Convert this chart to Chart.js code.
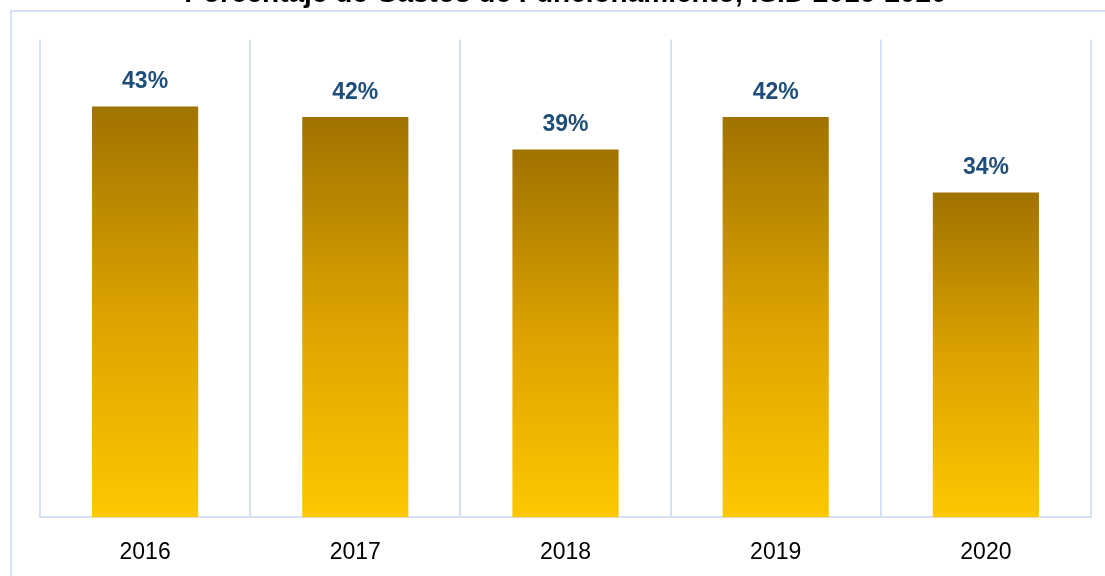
<!DOCTYPE html>
<html lang="es">
<head>
    <meta charset="UTF-8">
    <title>Porcentaje de Gastos de Funcionamiento</title>
    <style>
        html, body { margin: 0; padding: 0; background: #fff; }
        .wrap { width: 1105px; height: 576px; overflow: hidden; position: relative; }
        #chart { position: absolute; left: 0; top: -23px; }
    </style>
</head>
<body>
    <div class="wrap">
        <canvas id="chart" width="1105" height="618"></canvas>
    </div>
    <script src="https://cdn.jsdelivr.net/npm/chart.js"></script>
    <script>
        const titleText = 'Porcentaje de Gastos de Funcionamiento, ISID 2016-2020';
        const years = ['2016', '2017', '2018', '2019', '2020'];
        const porcentajes = [43.0, 41.9, 38.5, 41.9, 34.0];
        const yMax = 50;

        const lightBlue = '#d5e1f2';

        // degradado por barra: oscuro arriba, amarillo abajo
        function barGradient(context) {
            const chart = context.chart;
            if (!chart.chartArea || !chart.scales.y) return '#e0a500';
            const y = chart.scales.y;
            const top = y.getPixelForValue(context.raw);
            const bottom = y.getPixelForValue(0);
            const g = chart.ctx.createLinearGradient(0, top, 0, bottom);
            g.addColorStop(0, '#a07200');
            g.addColorStop(0.5, '#dca200');
            g.addColorStop(1, '#fcc800');
            return g;
        }

        const frame = {
            id: 'frame',
            beforeDraw(chart) {
                const c = chart.ctx;
                c.save();
                c.strokeStyle = lightBlue;
                c.lineWidth = 2;
                c.strokeRect(11, 23 + 11, 1300, 800);
                c.restore();
            }
        };

        const valueLabels = {
            id: 'valueLabels',
            afterDatasetsDraw(chart) {
                const c = chart.ctx;
                const meta = chart.getDatasetMeta(0);
                c.save();
                c.font = 'bold 23px "Liberation Sans", Arial, sans-serif';
                c.fillStyle = '#1f4e79';
                c.textAlign = 'center';
                c.textBaseline = 'alphabetic';
                meta.data.forEach((bar, i) => {
                    c.fillText(Math.round(porcentajes[i]) + '%', bar.x, bar.y - 18);
                });
                c.restore();
            }
        };

        new Chart(document.getElementById('chart'), {
            type: 'bar',
            data: {
                labels: years,
                datasets: [{
                    data: porcentajes,
                    backgroundColor: barGradient,
                    borderWidth: 0,
                    categoryPercentage: 1,
                    barPercentage: 0.505
                }]
            },
            options: {
                responsive: false,
                animation: false,
                layout: { padding: { left: 40, right: 14, bottom: 8 } },
                plugins: {
                    legend: { display: false },
                    tooltip: { enabled: false },
                    title: {
                        display: true,
                        text: titleText,
                        color: '#000',
                        font: { family: '"Liberation Sans", Arial, sans-serif', size: 28, weight: 'bold' },
                        padding: { top: 0, bottom: 29 }
                    }
                },
                scales: {
                    x: {
                        grid: { color: lightBlue, lineWidth: 2, offset: true, drawTicks: false },
                        border: { color: lightBlue, width: 2 },
                        ticks: {
                            color: '#000',
                            padding: 21,
                            font: { family: '"Liberation Sans", Arial, sans-serif', size: 23 }
                        }
                    },
                    y: {
                        display: false,
                        min: 0,
                        max: yMax
                    }
                }
            },
            plugins: [frame, valueLabels]
        });
    </script>
</body>
</html>
